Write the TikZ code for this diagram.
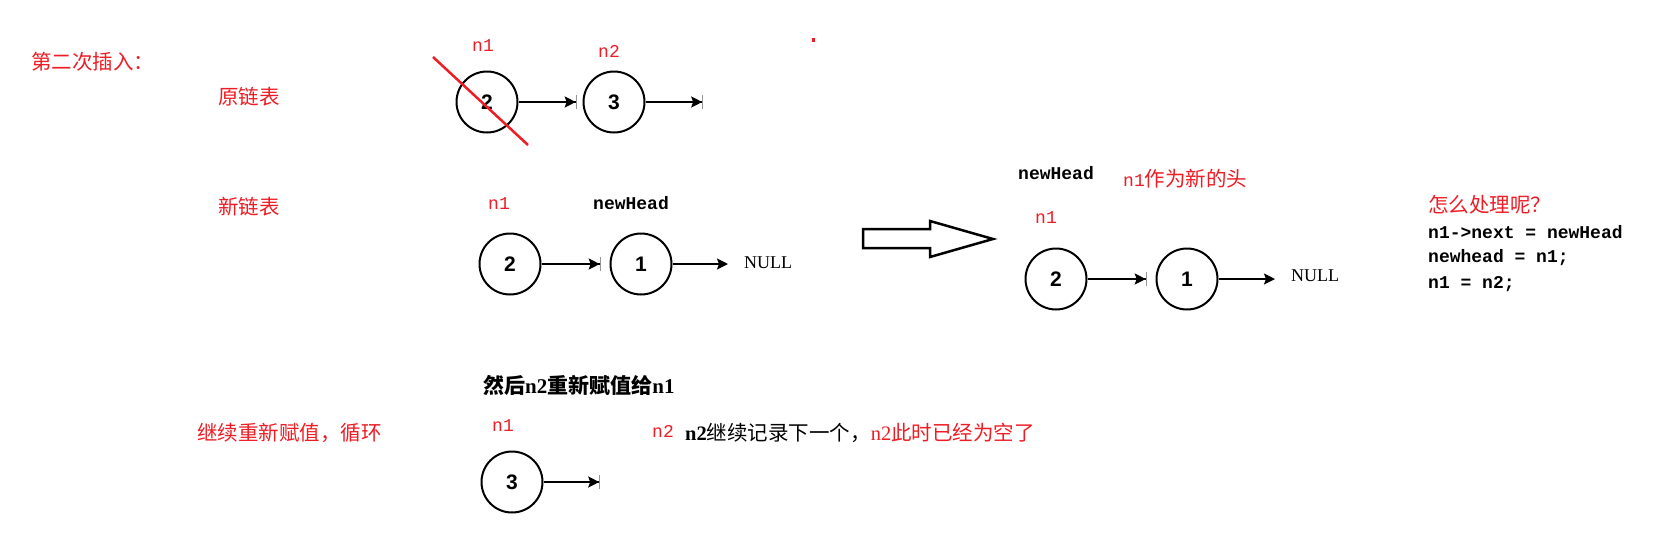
\documentclass[tikz,border=0pt]{standalone}
\usepackage{fontspec}
\setmainfont{Liberation Serif}
\newfontfamily\cjk{Noto Sans CJK SC}
\newfontfamily\mono{Liberation Mono}
\newfontfamily\numf{Liberation Sans}
\usetikzlibrary{arrows.meta}
\definecolor{myred}{RGB}{238,28,36}
\definecolor{bargray}{RGB}{150,150,150}
\begin{document}
\begin{tikzpicture}[x=1pt,y=-1pt,
  listnode/.style={circle,draw,line width=2pt,minimum size=61pt,inner sep=0pt,
    font=\numf\bfseries\fontsize{21}{21}\selectfont},
  link/.style={line width=2pt,-{Stealth[length=11pt,width=11pt,inset=2pt,sep=0pt]Bar[width=14pt,line width=0.8pt,color=bargray]}},
  linkend/.style={line width=2pt,-{Stealth[length=11pt,width=11pt,inset=2pt]}},
  cjkred/.style={anchor=west,inner sep=0pt,text=myred,font=\cjk\fontsize{20.5}{20.5}\selectfont},
  lblred/.style={inner sep=0pt,text=myred,font=\mono\fontsize{18}{18}\selectfont},
  lblblack/.style={inner sep=0pt,text=black,font=\mono\bfseries\fontsize{18}{18}\selectfont},
  code/.style={anchor=west,inner sep=0pt,text=black,font=\mono\bfseries\fontsize{18}{18}\selectfont},
  nulltxt/.style={inner sep=0pt,font=\fontsize{18}{18}\selectfont}
]
\useasboundingbox (0,0) rectangle (1673,547);

% left titles
\node[cjkred] (t1) at (31,62) {第二次插入：};
\node[cjkred] (t2) at (218,97) {原链表};
\node[cjkred] (t3) at (218,207) {新链表};
\node[cjkred] (t4) at (197,433) {继续重新赋值，循环};

% row 1: original list
\node[listnode] (a2) at (487,102) {2};
\node[listnode] (a3) at (614,102) {3};
\coordinate (ae) at (703,102);
\draw[link,shorten >=6pt] (a2) -- (a3);
\draw[link] (a3) -- (ae);
\node[lblred] (an1) at (483,46) {n1};
\node[lblred] (an2) at (609,51) {n2};
\coordinate (sx1) at (433,57);
\coordinate (sx2) at (528,145);
\draw[myred,line width=2.5pt] (sx1) -- (sx2);
\fill[myred] (812,38) rectangle (815,42);

% row 2: new list
\node[listnode] (b2) at (510,264) {2};
\node[listnode] (b1) at (641,264) {1};
\node[nulltxt,anchor=west] (bnull) at (744,263) {NULL};
\coordinate (be) at (728,264);
\draw[link,shorten >=9pt] (b2) -- (b1);
\draw[linkend] (b1) -- (be);
\node[lblred] (bn1) at (499,204) {n1};
\node[lblblack] (bnh) at (631,203) {newHead};

% big hollow arrow
\draw[line width=2.5pt,line join=miter] (863,229) -- (930,229) -- (930,221) -- (993,239)
  -- (930,257) -- (930,248) -- (863,248) -- cycle;

% row 2 right
\node[listnode] (c2) at (1056,279) {2};
\node[listnode] (c1) at (1187,279) {1};
\node[nulltxt,anchor=west] (cnull) at (1291,276) {NULL};
\coordinate (ce) at (1275,279);
\draw[link,shorten >=9pt] (c2) -- (c1);
\draw[linkend] (c1) -- (ce);
\node[lblblack] (cnh) at (1056,173) {newHead};
\node[anchor=west,inner sep=0pt,text=myred] (cnote) at (1123,179)
  {{\mono\fontsize{18}{18}\selectfont n1}{\cjk\fontsize{20.5}{20.5}\selectfont 作为新的头}};
\node[lblred] (cn1) at (1046,218) {n1};

% code block
\node[cjkred] (q) at (1428,205) {怎么处理呢？};
\node[code] (l1) at (1428,232) {n1->next = newHead};
\node[code] (l2) at (1428,258) {newhead = n1;};
\node[code] (l3) at (1428,284) {n1 = n2;};

% row 3
\node[anchor=west,inner sep=0pt] (r3t) at (483,385)
  {\fontsize{21}{21}\selectfont\bfseries{\cjk 然后}n2{\cjk 重新赋值给}n1};
\node[lblred] (dn1) at (503,426) {n1};
\node[listnode] (d3) at (512,482) {3};
\coordinate (de) at (600,482);
\draw[link] (d3) -- (de);
\node[lblred] (dn2) at (663,431) {n2};
\node[anchor=west,inner sep=0pt] (dnote) at (685,433)
  {\fontsize{20.5}{20.5}\selectfont{\bfseries n2}{\cjk 继续记录下一个，}\textcolor{myred}{n2{\cjk 此时已经为空了}}};
\end{tikzpicture}
\end{document}
